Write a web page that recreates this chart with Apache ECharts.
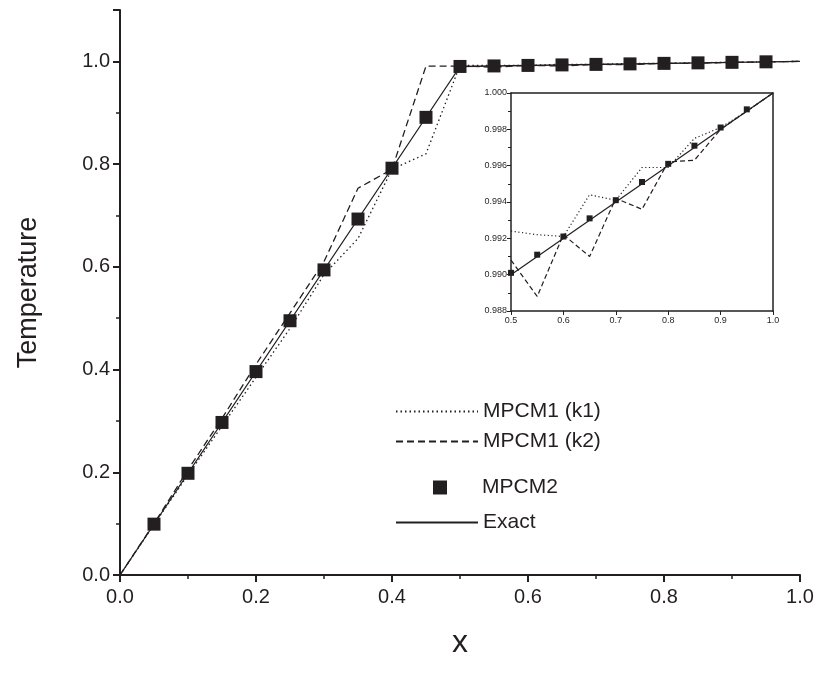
<!DOCTYPE html>
<html><head><meta charset="utf-8">
<script src="https://cdn.jsdelivr.net/npm/echarts@6/dist/echarts.min.js"></script>
<style>html,body{margin:0;padding:0;background:#fff}#c{width:826px;height:678px}</style>
</head><body><div id="c"></div>
<script>
const xs = [0.05,0.1,0.15,0.2,0.25,0.3,0.35,0.4,0.45,0.5,0.55,0.6,0.65,0.7,0.75,0.8,0.85,0.9,0.95];
const mpcm2 = [0.099,0.198,0.297,0.396,0.495,0.594,0.693,0.792,0.891,0.9901,0.9911,0.9921,0.9931,0.9941,0.9951,0.9961,0.9971,0.9981,0.9991];
const k1 = [0.098,0.195,0.29,0.385,0.48,0.585,0.655,0.79,0.82,0.9924,0.9922,0.9921,0.9944,0.9941,0.9959,0.9959,0.9975,0.9981,0.9990];
const k2 = [0.10,0.205,0.305,0.41,0.51,0.61,0.753,0.79,0.9908,0.9908,0.9888,0.9922,0.9910,0.9942,0.9936,0.9962,0.9963,0.9980,0.9990];
const exactX = [0,0.5,1.0];
const exactY = [0,0.99,1.0];
const pair = (a,b)=>a.map((v,i)=>[v,b[i]]);
const ink = '#231f20';
const font = 'Liberation Sans, Arial, sans-serif';
const inset = (arr)=>pair(xs,arr).filter(p=>p[0]>=0.5);
const chart = echarts.init(document.getElementById('c'));
function leg(name, top, sq){return {data:[{name:name, itemStyle: sq?{opacity:1}:{opacity:0}}], left: sq?428:390, top:top, orient:'vertical',
  itemWidth: sq?14:82, itemHeight:14, itemGap:0, icon: sq?'rect':undefined,
  textStyle:{fontSize:21,fontFamily:font,color:ink,padding: sq?[0,0,0,30]:0}, selectedMode:false};}
chart.setOption({
  animation:false,
  legend:[leg('MPCM1 (k1)',396),leg('MPCM1 (k2)',426),leg('MPCM2',472,true),leg('Exact',507)],
  grid:[{left:120,right:26,top:10,bottom:103},{left:511,right:53,top:93,bottom:367}],
  xAxis:[
    {type:'value',min:0,max:1,interval:0.2,gridIndex:0,name:'x',nameLocation:'middle',nameGap:52,
     nameTextStyle:{fontSize:32,fontFamily:font,color:ink},
     axisLine:{lineStyle:{color:ink,width:2}},axisTick:{length:7,lineStyle:{color:ink,width:2}},
     minorTick:{show:true,splitNumber:2,length:4,lineStyle:{color:ink,width:1.5}},
     axisLabel:{fontSize:20,fontFamily:font,color:ink,margin:12,formatter:v=>v.toFixed(1)},splitLine:{show:false}},
    {type:'value',min:0.5,max:1,interval:0.1,gridIndex:1,
     axisLine:{lineStyle:{color:ink,width:1.5}},axisTick:{length:4,lineStyle:{color:ink}},
     axisLabel:{fontSize:9,fontFamily:font,color:ink,margin:5,formatter:v=>v.toFixed(1)},splitLine:{show:false}},
    {type:'value',min:0.5,max:1,gridIndex:1,position:'top',axisLine:{lineStyle:{color:ink,width:1.5}},axisTick:{show:false},axisLabel:{show:false},splitLine:{show:false}}
  ],
  yAxis:[
    {type:'value',min:0,max:1.1,interval:0.2,gridIndex:0,name:'Temperature',nameLocation:'middle',nameGap:78,
     nameTextStyle:{fontSize:27,fontFamily:font,color:ink},
     axisLine:{lineStyle:{color:ink,width:2}},axisTick:{length:7,lineStyle:{color:ink,width:2}},
     minorTick:{show:true,splitNumber:2,length:4,lineStyle:{color:ink,width:1.5}},
     axisLabel:{fontSize:20,fontFamily:font,color:ink,margin:10,showMaxLabel:false,formatter:v=>v>1.05?'':v.toFixed(1)},splitLine:{show:false}},
    {type:'value',min:0.988,max:1.0,interval:0.002,gridIndex:1,
     axisLine:{lineStyle:{color:ink,width:1.5}},axisTick:{length:4,lineStyle:{color:ink}},
     minorTick:{show:true,splitNumber:2,length:3,lineStyle:{color:ink}},
     axisLabel:{fontSize:9,fontFamily:font,color:ink,margin:4,formatter:v=>v.toFixed(3)},splitLine:{show:false}},
    {type:'value',min:0.988,max:1.0,gridIndex:1,position:'right',axisLine:{lineStyle:{color:ink,width:1.5}},axisTick:{show:false},axisLabel:{show:false},splitLine:{show:false}}
  ],
  series:[
    {name:'MPCM1 (k1)',type:'line',data:[[0,0]].concat(pair(xs,k1),[[1,1]]),showSymbol:false,symbol:'none',lineStyle:{color:ink,width:1.3,type:[1.5,3]},itemStyle:{color:ink}},
    {name:'MPCM1 (k2)',type:'line',data:[[0,0]].concat(pair(xs,k2),[[1,1]]),showSymbol:false,symbol:'none',lineStyle:{color:ink,width:1.3,type:[7,4]},itemStyle:{color:ink}},
    {name:'MPCM2',type:'scatter',data:pair(xs,mpcm2),symbol:'rect',symbolSize:13,itemStyle:{color:ink,opacity:1}},
    {name:'Exact',type:'line',data:pair(exactX,exactY),symbol:'none',lineStyle:{color:ink,width:1.3},itemStyle:{color:ink},z:1},
    {name:'k1i',type:'line',xAxisIndex:1,yAxisIndex:1,data:inset(k1).concat([[1,1]]),symbol:'none',lineStyle:{color:ink,width:1.2,type:[1.2,2.5]}},
    {name:'k2i',type:'line',xAxisIndex:1,yAxisIndex:1,data:inset(k2).concat([[1,1]]),symbol:'none',lineStyle:{color:ink,width:1.2,type:[5,3]}},
    {name:'exi',type:'line',xAxisIndex:1,yAxisIndex:1,data:[[0.5,0.99],[1,1]],symbol:'none',lineStyle:{color:ink,width:1.2}},
    {name:'m2i',type:'scatter',xAxisIndex:1,yAxisIndex:1,data:inset(mpcm2),symbol:'rect',symbolSize:6,itemStyle:{color:ink,opacity:1}}
  ]
});
</script></body></html>
